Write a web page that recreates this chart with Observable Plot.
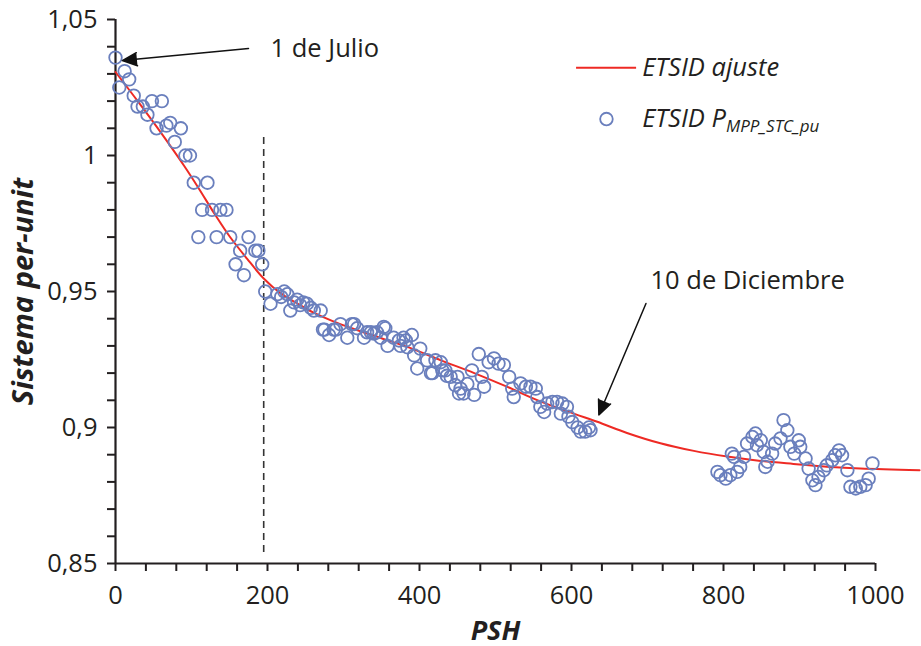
<!DOCTYPE html>
<html><head><meta charset="utf-8">
<script src="https://cdn.jsdelivr.net/npm/d3@7"></script>
<script src="https://cdn.jsdelivr.net/npm/@observablehq/plot@0.6"></script>
<style>
html,body{margin:0;padding:0;background:#fff;}
#chart{width:921px;height:646px;}
</style></head><body><div id="chart"></div>
<script>
// measured points (PSH, per-unit)
const psh = [0,12,18,5,24,29,36,42,48,61,54,67,72,78,86,92,98,103,121,114,127,138,146,109,133,151,175,164,184,188,158,169,193,197,204,213,218,222,226,230,235,239,243,247,252,257,261,270,273,275,281,287,290,296,305,311,314,318,327,331,336,340,344,349,353,355,358,366,373,375,379,382,384,390,393,397,401,410,415,417,421,428,430,434,436,441,447,450,452,454,458,463,469,472,478,482,485,491,498,504,511,518,522,524,533,540,546,553,555,559,564,568,575,581,586,588,594,596,601,608,612,618,623,625,
 792,796,803,809,818,822,814,811,827,831,838,842,849,844,853,858,855,864,868,875,879,884,888,893,899,901,908,912,917,921,925,932,936,943,947,952,956,963,967,974,980,987,991,996];
const pu = [1.036,1.031,1.028,1.025,1.022,1.018,1.018,1.015,1.020,1.020,1.010,1.011,1.012,1.005,1.010,1.000,1.000,0.990,0.990,0.980,0.980,0.980,0.980,0.970,0.970,0.970,0.970,0.965,0.965,0.965,0.960,0.956,0.960,0.950,0.9455,0.949,0.948,0.950,0.949,0.943,0.946,0.947,0.945,0.946,0.9455,0.944,0.943,0.943,0.936,0.936,0.934,0.936,0.936,0.938,0.933,0.938,0.938,0.9365,0.933,0.935,0.935,0.9345,0.935,0.933,0.937,0.9365,0.930,0.933,0.932,0.930,0.933,0.932,0.9295,0.934,0.9265,0.9217,0.929,0.9247,0.920,0.920,0.9247,0.924,0.921,0.921,0.919,0.9186,0.9156,0.9186,0.9125,0.9143,0.9125,0.916,0.921,0.912,0.927,0.9186,0.915,0.924,0.9254,0.9235,0.923,0.9186,0.9143,0.9112,0.9162,0.915,0.915,0.9143,0.9112,0.9076,0.9057,0.9088,0.9094,0.9094,0.9051,0.9088,0.9076,0.904,0.902,0.900,0.8985,0.8985,0.900,0.899,
 0.8837,0.8825,0.8812,0.8825,0.8837,0.8855,0.8892,0.8904,0.8892,0.8941,0.8965,0.8978,0.8953,0.8935,0.891,0.8874,0.8855,0.8904,0.8941,0.896,0.9027,0.899,0.8929,0.8904,0.8953,0.8929,0.8886,0.8849,0.8806,0.8788,0.8818,0.8843,0.8861,0.888,0.8898,0.8916,0.8898,0.8843,0.8782,0.8776,0.8782,0.8788,0.8812,0.8868];
// fitted curve
const fitPSH = [0,30,60,90,110,130,150,173,195,217,240,260,285,310,350,390,428,472,515,559,603,634,673,717,761,805,849,892,936,980,1058];
const fitPU = [1.0307,1.0197,1.0083,0.9963,0.9877,0.9787,0.9703,0.9621,0.9548,0.9494,0.9455,0.9423,0.9392,0.9366,0.9328,0.9290,0.9247,0.9200,0.9150,0.9096,0.9051,0.9021,0.8980,0.8942,0.8914,0.8893,0.8877,0.8866,0.8856,0.8849,0.8843];
// axes
const xTicks = d3.range(0, 1001, 40);
const yTicks = d3.range(85, 106).map(d => d / 100);
const xDomain = [0, 1000];
const yDomain = [0.85, 1.05];
const dividerPSH = [195];
const dividerRange = [0.854, 1.008];
// annotations
const annoText = ["1 de Julio", "10 de Diciembre"];
const annoX = [204, 704];
const annoY = [1.0393, 0.954];
const arrowX1 = [175, 698];
const arrowY1 = [1.0393, 0.9456];
const arrowX2 = [9, 636];
const arrowY2 = [1.0349, 0.9046];
// legend
const legendLabels = ["ETSID ajuste", "ETSID P"];
const legendSub = "MPP_STC_pu";
const legendLineX = [606, 685];
const legendTextX = 693;
const legendY = [1.0323, 1.0134];
const legendDotX = 646;

const pts = psh.map((x, i) => ({x, y: pu[i]}));
const fit = fitPSH.map((x, i) => ({x, y: fitPU[i]}));
const annos = annoText.map((t, i) => ({t, x: annoX[i], y: annoY[i], x1: arrowX1[i], y1: arrowY1[i], x2: arrowX2[i], y2: arrowY2[i]}));

const fmtY = d => (Math.round(d * 100) % 5 === 0) ? String(+d.toFixed(2)).replace(".", ",") : "";
const fmtX = d => d % 200 === 0 ? String(d) : "";
const ink = "#231f20";
const blue = "#6a7fbd";
const red = "#ee2a24";
const fs = 25.5;

const chart = Plot.plot({
  width: 921, height: 646,
  marginLeft: 115, marginRight: 46, marginTop: 19, marginBottom: 83,
  style: {fontFamily: "'Open Sans', sans-serif", fontSize: fs + "px", color: ink, background: "#fff"},
  x: {domain: xDomain, label: null},
  y: {domain: yDomain, label: null},
  marks: [
    Plot.axisX({ticks: xTicks, tickFormat: fmtX, tickSize: 8, tickPadding: 14, strokeWidth: 2, fontSize: fs, label: null}),
    Plot.axisY({ticks: yTicks, tickFormat: fmtY, tickSize: 8, tickPadding: 10, strokeWidth: 2, fontSize: fs, label: null}),
    Plot.ruleX([0], {y1: yDomain[0], y2: yDomain[1], stroke: ink, strokeWidth: 2.2}),
    Plot.ruleY([0.85], {x1: xDomain[0], x2: xDomain[1], stroke: ink, strokeWidth: 2.2}),
    Plot.ruleX(dividerPSH, {y1: dividerRange[0], y2: dividerRange[1], stroke: "#333", strokeWidth: 1.6, strokeDasharray: "7,5"}),
    Plot.line(fit, {x: "x", y: "y", stroke: red, strokeWidth: 2, curve: "catmull-rom"}),
    Plot.dot(pts, {x: "x", y: "y", r: 6.3, stroke: blue, strokeWidth: 1.8, fill: "none"}),
    Plot.arrow(annos, {x1: "x1", y1: "y1", x2: "x2", y2: "y2", stroke: "#111", fill: "#111", strokeWidth: 1.5, headLength: 16, headAngle: 48}),
    Plot.text(annos, {x: "x", y: "y", text: "t", textAnchor: "start", fontSize: fs, fill: ink}),
    // legend
    Plot.link([0], {x1: legendLineX[0], x2: legendLineX[1], y1: legendY[0], y2: legendY[0], stroke: red, strokeWidth: 2}),
    Plot.dot([0], {x: legendDotX, y: legendY[1], r: 6.3, stroke: blue, strokeWidth: 1.8, fill: "none"}),
    Plot.text(legendLabels, {x: legendTextX, y: (d, i) => legendY[i], text: d => d, textAnchor: "start", fontSize: fs, fontStyle: "italic", fill: ink}),
    // axis titles
    Plot.text(["PSH"], {frameAnchor: "bottom", dy: 76, textAnchor: "middle", fontSize: 27, fontWeight: "bold", fontStyle: "italic", fill: ink}),
    Plot.text(["Sistema per-unit"], {frameAnchor: "left", textAnchor: "middle", dx: -92, rotate: -90, fontSize: 29, fontWeight: "bold", fontStyle: "italic", fill: ink})
  ]
});
document.getElementById("chart").appendChild(chart);
// subscript on legend label
d3.select(chart).selectAll("text").each(function() {
  if (this.textContent === "ETSID P") {
    d3.select(this).append("tspan").attr("font-size", 17).attr("dy", "0.3em").text(legendSub);
  }
});
d3.select(chart).selectAll('g[aria-label="arrow"] path').attr("fill", "#111");
</script>
</body></html>
